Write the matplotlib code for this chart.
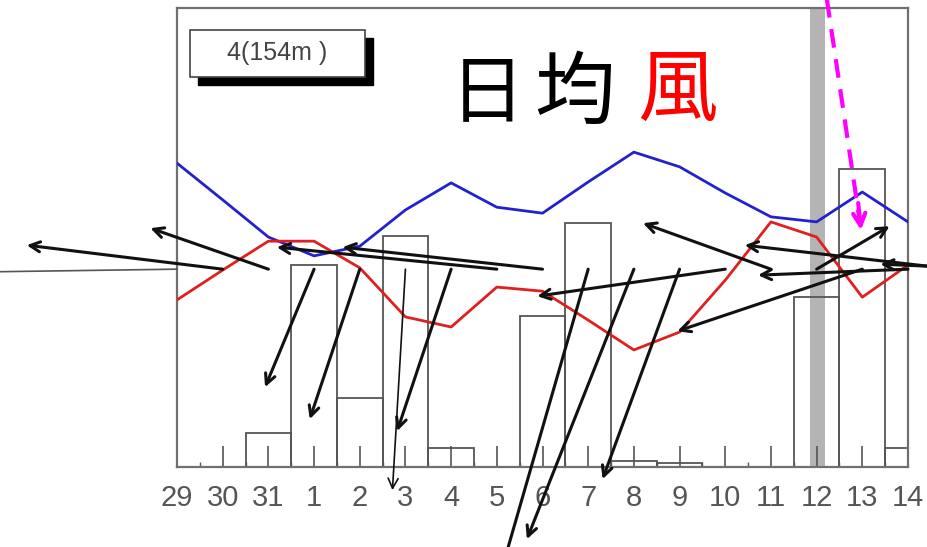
import matplotlib
matplotlib.use("Agg")
import matplotlib.pyplot as plt
from matplotlib.patches import Rectangle
from matplotlib.transforms import offset_copy

# days shown on the axis
day_labels = ['29', '30', '31', '1', '2', '3', '4', '5', '6', '7', '8', '9', '10', '11', '12', '13', '14']

# daily bars (rain) and the two lines
rain = [0, 0, 7.4, 44.0, 15.0, 50.3, 4.1, 0, 32.9, 53.2, 1.3, 0.9, 0, 0, 37.0, 64.9, 4.1]
blue_line = [66.2, 58.2, 50.1, 46.0, 48.1, 56.0, 61.9, 56.6, 55.3, 62.1, 68.6, 65.4, 59.7, 54.5, 53.4, 59.9, 53.4]
red_line = [36.4, 42.9, 49.2, 49.2, 43.4, 32.7, 30.5, 39.2, 38.3, 32.0, 25.5, 29.4, 40.7, 53.4, 50.1, 37.0, 44.0]

# daily mean wind vectors (screen units), a few days run past the axis end
wind_day = [0, 1, 2, 3, 4, 5, 6, 7, 8, 9, 10, 11, 12, 13, 14, 15, 16, 17, 18]
wind_u = [-280, -196, -118, -49, -50, -13, -54, -220, -200, -95, -107, -77, -188, -128, 73, -185, -150, -209, -119]
wind_v = [-4, 24, 41, -118, -150, -221, -162, 22, 22, -330, -270, -210, -27, 46, 43, -62, -6, 24, 5]
wind_base = 43.1

station = '4(154m)'

fig = plt.figure(figsize=(9.28, 5.47), dpi=100)
ax = fig.add_axes([177 / 928, 80 / 547, 731 / 928, 459 / 547])
ax.set_xlim(0, 16)
ax.set_ylim(0, 100)

x = list(range(len(day_labels)))

# gray marker band on day 12
ax.axvspan(13.85, 14.18, color='#b4b4b4', zorder=1, lw=0)

ax.bar(x, rain, width=1.0, fill=False, edgecolor='#555555', linewidth=1.3, zorder=2)
ax.plot(x, blue_line, color='#2222cc', lw=2, zorder=3)
ax.plot(x, red_line, color='#e02020', lw=2, zorder=3)

# wind arrows from the baseline, not clipped
for d, u, v in zip(wind_day, wind_u, wind_v):
    head = offset_copy(ax.transData, fig=fig, x=u, y=v, units='dots')
    thin = d in (0, 5)
    ax.annotate('', xy=(d, wind_base), xycoords=head,
                xytext=(d, wind_base), textcoords='data',
                annotation_clip=False,
                arrowprops=dict(arrowstyle='->', color='#555555' if d == 0 else '#111111',
                                lw=1.2 if thin else 2.2, mutation_scale=18,
                                shrinkA=0, shrinkB=0), zorder=4)

# axis styling
for s in ax.spines.values():
    s.set_color('#707070')
    s.set_linewidth(1.6)
ax.set_yticks([])
ax.set_xticks(x)
ax.set_xticklabels(day_labels, fontsize=21, color='#555555', family='Liberation Sans')
ax.set_xticks([i + 0.5 for i in range(16)], minor=True)
ax.tick_params(axis='x', which='major', direction='in', length=15, width=1.2, color='#555555', pad=12)
ax.tick_params(axis='x', which='minor', direction='in', length=3.5, width=1, color='#555555')

# station box with shadow
ax.add_patch(Rectangle((0.029, 0.833), 0.239, 0.102, transform=ax.transAxes,
                       facecolor='black', edgecolor='black', zorder=5, clip_on=False))
ax.add_patch(Rectangle((0.018, 0.850), 0.239, 0.102, transform=ax.transAxes,
                       facecolor='white', edgecolor='#444444', lw=1.2, zorder=6, clip_on=False))
ax.text(0.1375, 0.901, '4(154m )', transform=ax.transAxes, ha='center', va='center',
        fontsize=18, color='#444444', family='Liberation Sans', zorder=7)

# title characters
cjk = ['Noto Sans CJK TC', 'DejaVu Sans']
fig.text(487 / 928, 1 - 95 / 547, '日', ha='center', va='center', fontsize=54, color='black', family=cjk)
fig.text(575 / 928, 1 - 95 / 547, '均', ha='center', va='center', fontsize=58, color='black', family=cjk)
fig.text(677 / 928, 1 - 92 / 547, '風', ha='center', va='center', fontsize=58, color='#ff0000', family=cjk)

# magenta pointer to day 13
ax.plot([14.2, 14.93], [103.5, 54.5], color='#ff00ff', lw=3, ls=(0, (4.5, 2.8)), clip_on=False, zorder=8)
ax.annotate('', xy=(14.97, 51.6), xytext=(14.91, 57.5), annotation_clip=False,
            arrowprops=dict(arrowstyle='->', color='#ff00ff', lw=3, mutation_scale=22,
                            shrinkA=0, shrinkB=0), zorder=8)

fig.savefig('out.png', dpi=100, facecolor='white')
